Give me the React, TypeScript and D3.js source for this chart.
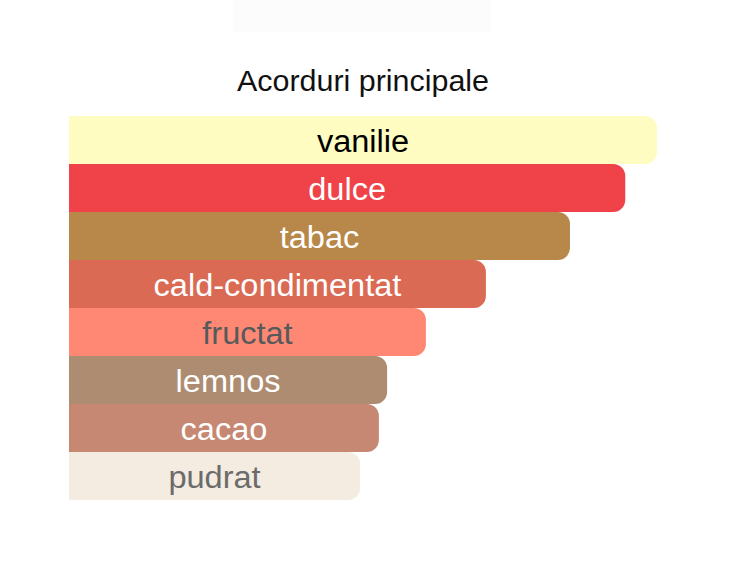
import React from "react";
import * as d3 from "d3";

const categories = ["vanilie", "dulce", "tabac", "cald-condimentat", "fructat", "lemnos", "cacao", "pudrat"];
const values = [100, 94.6, 85.2, 70.9, 60.7, 54.1, 52.7, 49.5];
const barColors = ["#FFFCC1", "#EF4349", "#B8884A", "#DA6A53", "#FE8874", "#AE8C72", "#C68873", "#F4EBE1"];
const textColors = ["#000000", "#FFFFFF", "#FFFFFF", "#FFFFFF", "#555A5A", "#FFFFFF", "#FFFFFF", "#6B6B6B"];
const title = "Acorduri principale";

const W = 734;
const H = 570;
const left = 69;
const right = 657;
const top = 116;
const rowH = 48;
const r = 12;

function barPath(x0: number, y0: number, w: number, h: number, rad: number) {
  const p = d3.path();
  p.moveTo(x0, y0);
  p.lineTo(x0 + w - rad, y0);
  p.arcTo(x0 + w, y0, x0 + w, y0 + rad, rad);
  p.lineTo(x0 + w, y0 + h - rad);
  p.arcTo(x0 + w, y0 + h, x0 + w - rad, y0 + h, rad);
  p.lineTo(x0, y0 + h);
  p.closePath();
  return p.toString();
}

export default function App() {
  const x = d3.scaleLinear().domain([0, 100]).range([left, right]);
  const y = d3.scaleBand<string>().domain(categories).range([top, top + rowH * categories.length]).padding(0);
  const font = "'Liberation Sans', Arial, Helvetica, sans-serif";
  return (
    <svg width={W} height={H} style={{ position: "absolute", left: 0, top: 0, background: "#fff" }}>
      <rect x={233} y={0} width={257} height={32} fill="#fcfcfc" />
      <text
        transform={`translate(${(left + right) / 2},91) scale(1.05,1)`}
        textAnchor="middle"
        fontFamily={font}
        fontSize={29}
        fill="#111"
      >
        {title}
      </text>
      {categories.map((c, i) => {
        const y0 = y(c)!;
        const w = x(values[i]) - x(0);
        return (
          <g key={c}>
            <path d={barPath(x(0), y0, w, y.bandwidth(), r)} fill={barColors[i]} />
            <text
              transform={`translate(${x(0) + w / 2},${y0 + y.bandwidth() / 2 + 11.5}) scale(1.05,1)`}
              textAnchor="middle"
              fontFamily={font}
              fontSize={31}
              fill={textColors[i]}
            >
              {c}
            </text>
          </g>
        );
      })}
    </svg>
  );
}
